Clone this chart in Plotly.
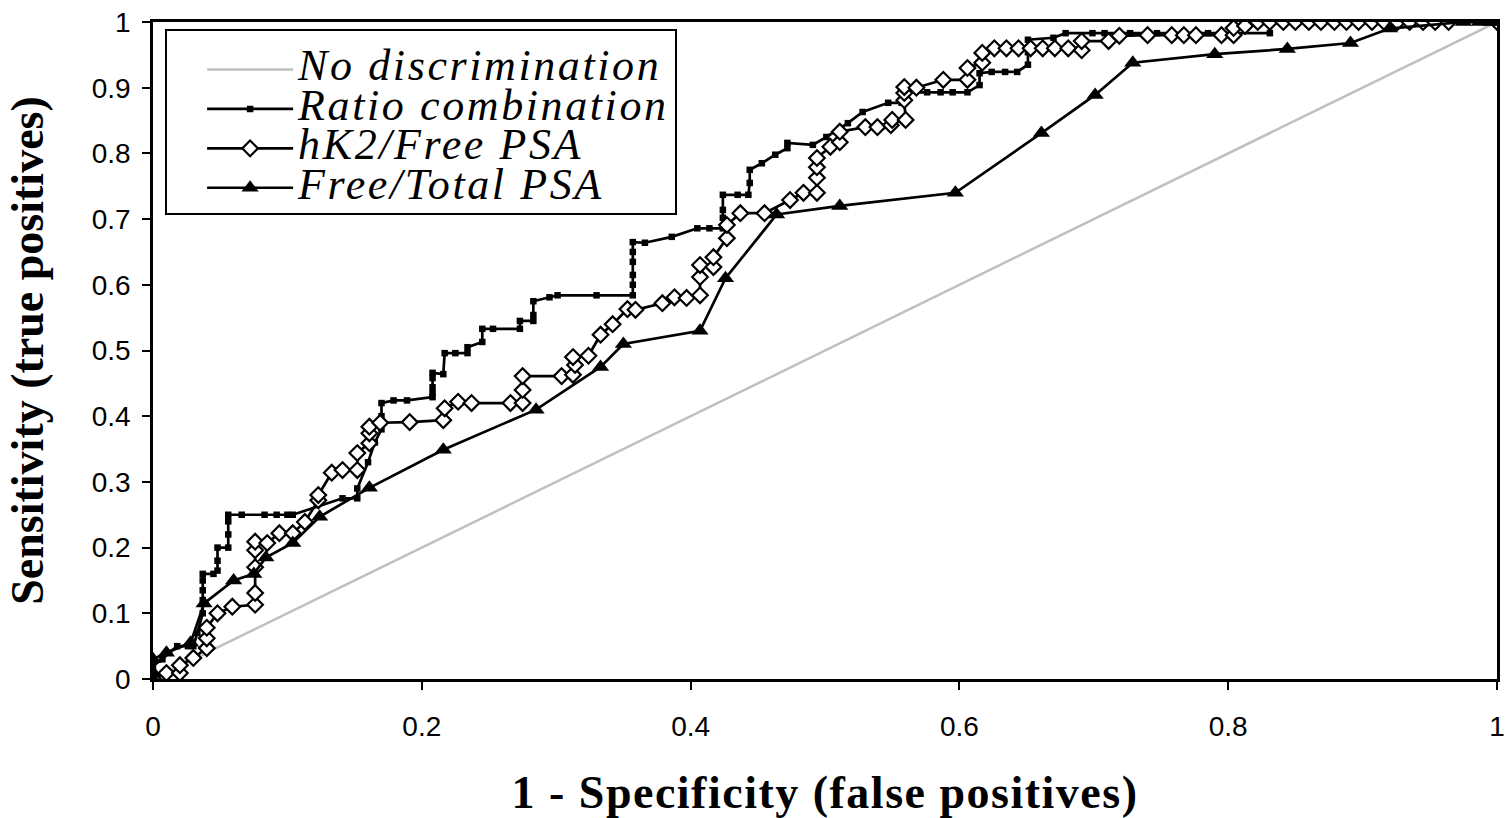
import plotly.graph_objects as go

# ---- data ----
diag_x = [0, 1]
diag_y = [0, 1]

ratio_x = [0, 0, 0, 0.007, 0.012, 0.018, 0.026, 0.03, 0.033, 0.037, 0.037, 0.037, 0.037, 0.037,
           0.045, 0.048, 0.048, 0.048, 0.056, 0.056, 0.056, 0.056, 0.066, 0.083, 0.092, 0.1, 0.104,
           0.141, 0.152, 0.152, 0.16, 0.165, 0.17, 0.17, 0.17, 0.179, 0.189,
           0.208, 0.208, 0.208, 0.208, 0.208, 0.216, 0.217, 0.225, 0.234, 0.234, 0.245, 0.245,
           0.253, 0.273, 0.273, 0.283, 0.283, 0.283, 0.295, 0.301, 0.330, 0.357, 0.357, 0.357,
           0.357, 0.357, 0.357, 0.366, 0.386, 0.405, 0.414, 0.424, 0.424, 0.424, 0.424, 0.435,
           0.443, 0.444, 0.444, 0.453, 0.463, 0.472, 0.472, 0.491, 0.501, 0.517, 0.528, 0.547,
           0.557, 0.557, 0.576, 0.586, 0.595, 0.606, 0.615, 0.615, 0.624, 0.634, 0.643, 0.651,
           0.651, 0.651, 0.670, 0.679, 0.699, 0.708, 0.727, 0.747, 0.785, 0.831, 0.831, 0.963, 1.0]
ratio_y = [0, 0.01, 0.02, 0.03, 0.04, 0.05, 0.05, 0.05, 0.07, 0.1, 0.12, 0.135, 0.15, 0.16,
           0.16, 0.165, 0.18, 0.2, 0.2, 0.22, 0.24, 0.25, 0.25, 0.25, 0.25, 0.25, 0.25,
           0.275, 0.275, 0.29, 0.33, 0.36, 0.38, 0.40, 0.42, 0.424, 0.424,
           0.429, 0.435, 0.444, 0.458, 0.466, 0.464, 0.496, 0.496, 0.496, 0.505, 0.513, 0.533,
           0.533, 0.533, 0.545, 0.545, 0.554, 0.575, 0.581, 0.584, 0.584, 0.584, 0.6, 0.615,
           0.635, 0.65, 0.665, 0.664, 0.673, 0.686, 0.686, 0.686, 0.702, 0.714, 0.737, 0.737,
           0.737, 0.755, 0.775, 0.785, 0.798, 0.808, 0.816, 0.813, 0.825, 0.846, 0.863, 0.877,
           0.877, 0.893, 0.893, 0.893, 0.893, 0.893, 0.904, 0.922, 0.924, 0.924, 0.924, 0.935,
           0.954, 0.973, 0.976, 0.983, 0.983, 0.983, 0.983, 0.983, 0.983, 0.983, 1.0, 1.0, 1.0]

hk2_x = [0, 0.01, 0.02, 0.02, 0.03, 0.04, 0.04, 0.04, 0.048, 0.059, 0.076, 0.076, 0.076, 0.076,
         0.076, 0.085, 0.094, 0.104, 0.113, 0.123, 0.123, 0.133, 0.141, 0.152, 0.152, 0.161,
         0.161, 0.161, 0.169, 0.191, 0.216, 0.217, 0.227, 0.237, 0.266, 0.275, 0.275, 0.275,
         0.304, 0.3125, 0.314, 0.3125, 0.324, 0.333, 0.342, 0.353, 0.359, 0.379, 0.388, 0.397,
         0.407, 0.407, 0.407, 0.417, 0.417, 0.427, 0.427, 0.437, 0.455, 0.474, 0.484, 0.494,
         0.494, 0.494, 0.494, 0.504, 0.511, 0.511, 0.530, 0.539, 0.549, 0.550, 0.560, 0.559,
         0.559, 0.559, 0.568, 0.588, 0.606, 0.606, 0.617, 0.617, 0.626, 0.635, 0.644, 0.653,
         0.662, 0.671, 0.681, 0.691, 0.691, 0.711, 0.719, 0.740, 0.758, 0.767, 0.776, 0.795,
         0.804, 0.804, 0.8125, 0.822, 0.831, 0.841, 0.85, 0.86, 0.869, 0.879, 0.888, 0.897,
         0.907, 0.916, 0.926, 0.935, 0.945, 0.954, 0.964, 1.0]
hk2_y = [0, 0.009, 0.009, 0.021, 0.032, 0.047, 0.062, 0.078, 0.100, 0.110, 0.113, 0.131, 0.170,
         0.196, 0.209, 0.207, 0.222, 0.222, 0.239, 0.272, 0.280, 0.314, 0.318, 0.318, 0.344,
         0.359, 0.374, 0.384, 0.390, 0.391, 0.394, 0.412, 0.422, 0.420, 0.420, 0.420, 0.44,
         0.461, 0.461, 0.463, 0.478, 0.490, 0.492, 0.524, 0.540, 0.563, 0.562, 0.572, 0.581,
         0.580, 0.584, 0.612, 0.630, 0.627, 0.642, 0.671, 0.691, 0.709, 0.709, 0.729, 0.740,
         0.740, 0.763, 0.779, 0.793, 0.810, 0.817, 0.833, 0.840, 0.840, 0.843, 0.851, 0.851,
         0.881, 0.892, 0.901, 0.900, 0.912, 0.912, 0.930, 0.938, 0.953, 0.960, 0.960, 0.960,
         0.960, 0.960, 0.960, 0.960, 0.957, 0.971, 0.971, 0.979, 0.980, 0.980, 0.980, 0.980,
         0.980, 0.980, 0.991, 0.994, 1.0, 1.0, 1.0, 1.0, 1.0, 1.0, 1.0, 1.0, 1.0, 1.0, 1.0,
         1.0, 1.0, 1.0, 1.0, 1.0, 1.0, 1.0]

ft_x = [0, 0, 0, 0.01, 0.028, 0.038, 0.06, 0.075, 0.084, 0.104, 0.124, 0.161, 0.216, 0.285,
        0.333, 0.35, 0.407, 0.426, 0.464, 0.511, 0.597, 0.661, 0.701, 0.729, 0.79, 0.844,
        0.891, 0.92, 0.975, 0.987, 0.995, 1.0]
ft_y = [0, 0.01, 0.03, 0.04, 0.055, 0.115, 0.15, 0.16, 0.185, 0.207, 0.247, 0.291, 0.349, 0.41,
        0.475, 0.51, 0.53, 0.61, 0.707, 0.72, 0.74, 0.831, 0.889, 0.938, 0.951, 0.959,
        0.968, 0.99, 1.0, 1.0, 1.0, 1.0]

series_names = ["No discrimination", "Ratio combination", "hK2/Free PSA", "Free/Total PSA"]

x_ticks = [0, 0.2, 0.4, 0.6, 0.8, 1]
x_tick_text = ["0", "0.2", "0.4", "0.6", "0.8", "1"]
y_ticks = [0, 0.1, 0.2, 0.3, 0.4, 0.5, 0.6, 0.7, 0.8, 0.9, 1]
y_tick_text = ["0", "0.1", "0.2", "0.3", "0.4", "0.5", "0.6", "0.7", "0.8", "0.9", "1"]


def legend_name(s):
    return '<span style="font-size:44px;letter-spacing:2.6px">' + s + '</span>'


fig = go.Figure()
fig.add_trace(go.Scatter(x=diag_x, y=diag_y, mode="lines", name=legend_name(series_names[0]),
                         line=dict(color="#c0c0c0", width=2.5)))
fig.add_trace(go.Scatter(x=ratio_x, y=ratio_y, mode="lines+markers", name=legend_name(series_names[1]),
                         line=dict(color="black", width=2.7),
                         marker=dict(symbol="square", size=6.5, color="black")))
fig.add_trace(go.Scatter(x=hk2_x, y=hk2_y, mode="lines+markers", name=legend_name(series_names[2]),
                         line=dict(color="black", width=2.7),
                         marker=dict(symbol="diamond", size=12, color="white",
                                     line=dict(color="black", width=2.2))))
fig.add_trace(go.Scatter(x=ft_x, y=ft_y, mode="lines+markers", name=legend_name(series_names[3]),
                         line=dict(color="black", width=2.7),
                         marker=dict(symbol="triangle-up", size=15, color="black")))

fig.update_layout(
    width=1509, height=818,
    margin=dict(l=153, r=12, t=22, b=139, autoexpand=False),
    plot_bgcolor="white", paper_bgcolor="white",
    showlegend=True,
    legend=dict(x=0.009, y=0.99, xanchor="left", yanchor="top",
                bgcolor="white", bordercolor="black", borderwidth=2,
                font=dict(family="Liberation Serif", size=28, color="black", style="italic"),
                title=dict(text=" ", font=dict(size=11)),
                itemwidth=86, indentation=35, tracegroupgap=0),
    xaxis=dict(range=[0, 1], tickvals=x_ticks, ticktext=x_tick_text, automargin=False,
               showgrid=False, zeroline=False, showline=True, linecolor="black", linewidth=2.5,
               mirror=True, ticks="outside", ticklen=8, tickwidth=2, tickcolor="black",
               ticklabelstandoff=13,
               tickfont=dict(family="Liberation Sans", size=28, color="black"),
               title=dict(text='<b><span style="letter-spacing:1.5px">1 - Specificity (false positives)</span></b>',
                          standoff=42,
                          font=dict(family="Liberation Serif", size=46, color="black"))),
    yaxis=dict(range=[0, 1], tickvals=y_ticks, ticktext=y_tick_text, automargin=False,
               showgrid=False, zeroline=False, showline=True, linecolor="black", linewidth=2.5,
               mirror=True, ticks="outside", ticklen=8, tickwidth=2, tickcolor="black",
               ticklabelstandoff=6,
               tickfont=dict(family="Liberation Sans", size=28, color="black"),
               title=dict(text="<b>Sensitivity (true positives)</b>", standoff=34,
                          font=dict(family="Liberation Serif", size=46, color="black"))),
)

fig.write_html("out.html")
